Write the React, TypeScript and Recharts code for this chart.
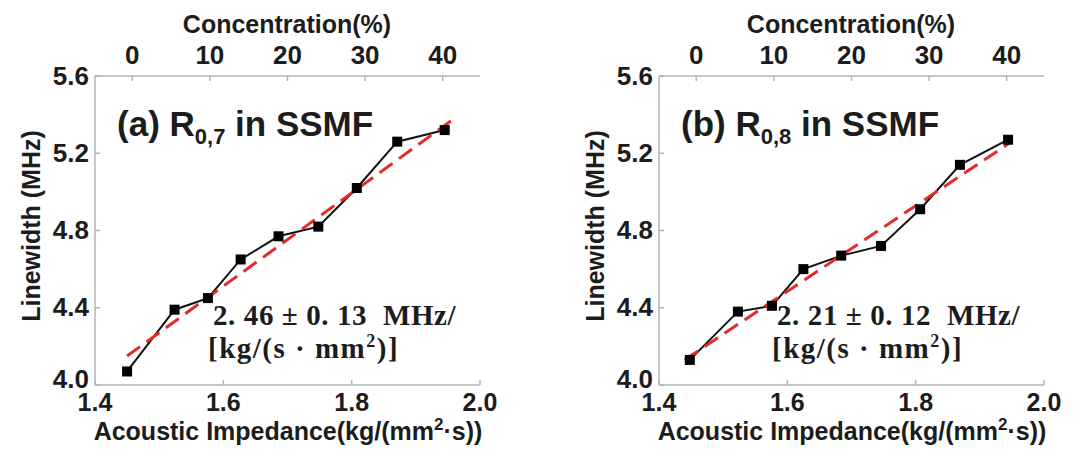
import { ScatterChart, Scatter, XAxis, YAxis } from "recharts";

// concentration (%) of each sample, shown on the top axis
const concentration = [0, 5, 10, 15, 20, 25, 30, 35, 40];

// (a) R0,7 in SSMF
const impedanceA = [1.45, 1.524, 1.576, 1.627, 1.686, 1.748, 1.808, 1.871, 1.945];
const linewidthA = [4.07, 4.39, 4.45, 4.65, 4.77, 4.82, 5.02, 5.26, 5.32];
const fitImpedanceA = [1.45, 1.96];
const fitLinewidthA = [4.15, 5.38];

// (b) R0,8 in SSMF
const impedanceB = [1.448, 1.523, 1.576, 1.625, 1.684, 1.746, 1.807, 1.869, 1.944];
const linewidthB = [4.13, 4.38, 4.41, 4.6, 4.67, 4.72, 4.91, 5.14, 5.27];
const fitImpedanceB = [1.44, 1.945];
const fitLinewidthB = [4.13, 5.25];

const impedanceTicks = [1.4, 1.6, 1.8, 2.0];
const linewidthTicks = [4.0, 4.4, 4.8, 5.2, 5.6];
const concentrationTicks = [0, 10, 20, 30, 40];

const BOX = "#b4b4b4";
const INK = "#1c1c1c";
const SANS = "'Liberation Sans', Arial, sans-serif";
const SERIF = "'Liberation Serif', 'Times New Roman', serif";

const BottomTick = ({ x, y, payload }: any) => (
  <g>
    <line x1={x} x2={x} y1={y} y2={y - 5} stroke={BOX} strokeWidth={1.5} />
    <text x={x} y={y + 26} textAnchor="middle" fontFamily={SANS} fontWeight="bold" fontSize={25} fill={INK}>
      {Number(payload.value).toFixed(1)}
    </text>
  </g>
);

const TopTick = ({ x, y, payload }: any) => (
  <g>
    <line x1={x} x2={x} y1={y} y2={y + 5} stroke={BOX} strokeWidth={1.5} />
    <text x={x} y={y - 12} textAnchor="middle" fontFamily={SANS} fontWeight="bold" fontSize={26} fill={INK}>
      {payload.value}
    </text>
  </g>
);

// the lowest label sits a little higher, clear of the bottom axis labels
const LeftTick = ({ x, y, payload }: any) => (
  <g>
    <line x1={x} x2={x + 5} y1={y} y2={y} stroke={BOX} strokeWidth={1.5} />
    <text
      x={x - 6}
      y={y + (payload.value === linewidthTicks[0] ? 3 : 8.5)}
      textAnchor="end"
      fontFamily={SANS}
      fontWeight="bold"
      fontSize={26}
      fill={INK}
    >
      {Number(payload.value).toFixed(1)}
    </text>
  </g>
);

const squareMarker = (p: any) => <rect x={p.cx - 5} y={p.cy - 5} width={10} height={10} fill="#000" />;
const noMarker = () => <g />;

type PanelProps = {
  left: number;
  letter: string;
  mode: string;
  slope: string;
  error: string;
  impedance: number[];
  linewidth: number[];
  fitImpedance: number[];
  fitLinewidth: number[];
};

function Panel({ left, letter, mode, slope, error, impedance, linewidth, fitImpedance, fitLinewidth }: PanelProps) {
  const points = impedance.map((imp, i) => ({ imp, lw: linewidth[i] }));
  const fit = fitImpedance.map((imp, i) => ({ imp, lw: fitLinewidth[i] }));
  const conc = concentration.map((c, i) => ({ c, lw: linewidth[i] }));
  const axisLine = { stroke: BOX, strokeWidth: 1.5 };

  return (
    <div style={{ position: "absolute", left, top: 0 }}>
      <ScatterChart width={516} height={467} margin={{ top: 46, right: 36, bottom: 52, left: 35 }}>
        <XAxis
          xAxisId="bottom"
          dataKey="imp"
          type="number"
          domain={[1.4, 2.0]}
          ticks={impedanceTicks}
          interval={0}
          height={30}
          tickSize={0}
          tickMargin={0}
          tickLine={false}
          axisLine={axisLine}
          tick={<BottomTick />}
        />
        <XAxis
          xAxisId="top"
          orientation="top"
          dataKey="c"
          type="number"
          domain={[-4.8, 44.8]}
          ticks={concentrationTicks}
          interval={0}
          height={30}
          tickSize={0}
          tickMargin={0}
          tickLine={false}
          axisLine={axisLine}
          tick={<TopTick />}
        />
        <YAxis
          dataKey="lw"
          type="number"
          domain={[4.0, 5.6]}
          ticks={linewidthTicks}
          interval={0}
          width={60}
          tickSize={0}
          tickMargin={0}
          tickLine={false}
          axisLine={axisLine}
          tick={<LeftTick />}
        />
        <YAxis
          yAxisId="right"
          orientation="right"
          dataKey="lw"
          type="number"
          domain={[4.0, 5.6]}
          width={0}
          tick={false}
          tickLine={false}
          axisLine={axisLine}
        />
        <Scatter xAxisId="top" data={conc} shape={noMarker} isAnimationActive={false} />
        <Scatter
          xAxisId="bottom"
          yAxisId="right"
          data={points}
          fill="#111"
          line={{ stroke: "#111", strokeWidth: 2 }}
          lineType="joint"
          shape={noMarker}
          isAnimationActive={false}
        />
        <Scatter
          xAxisId="bottom"
          data={fit}
          fill="#e42a2a"
          line={{ stroke: "#e42a2a", strokeWidth: 3, strokeDasharray: "16 8" }}
          lineType="joint"
          shape={noMarker}
          isAnimationActive={false}
        />
        <Scatter xAxisId="bottom" data={points} fill="#000" shape={squareMarker} isAnimationActive={false} />

        <text x={287} y={33} textAnchor="middle" fontFamily={SANS} fontWeight="bold" fontSize={25} fill={INK}>
          Concentration(%)
        </text>
        <text
          x={31}
          y={226}
          transform="rotate(-90 31 226)"
          textAnchor="middle"
          dominantBaseline="central"
          fontFamily={SANS}
          fontWeight="bold"
          fontSize={25}
          fill={INK}
        >
          Linewidth (MHz)
        </text>
        <text x={288} y={440} textAnchor="middle" fontFamily={SANS} fontWeight="bold" fontSize={25} fill={INK}>
          Acoustic Impedance(kg/(mm
          <tspan dy={-10} fontSize={17}>2</tspan>
          <tspan dy={10}>·s))</tspan>
        </text>
        <text x={117} y={136} fontFamily={SANS} fontWeight="bold" fontSize={35} fill={INK}>
          ({letter}) R
          <tspan dy={8} fontSize={22}>{mode}</tspan>
          <tspan dy={-8}> in SSMF</tspan>
        </text>
        <text x={213} y={325} fontFamily={SERIF} fontWeight="bold" fontSize={29} letterSpacing={0.6} fill={INK}>
          {`${slope} ± ${error}\u00a0\u00a0MHz/`}
        </text>
        <text x={208} y={358} fontFamily={SERIF} fontWeight="bold" fontSize={29} letterSpacing={1.5} fill={INK}>
          [kg/(s · mm
          <tspan dy={-11} fontSize={18}>2</tspan>
          <tspan dy={11}>)]</tspan>
        </text>
      </ScatterChart>
    </div>
  );
}

export default function App() {
  return (
    <div style={{ position: "absolute", left: 0, top: 0, width: 1080, height: 467, background: "#fff" }}>
      <Panel
        left={0}
        letter="a"
        mode="0,7"
        slope="2. 46"
        error="0. 13"
        impedance={impedanceA}
        linewidth={linewidthA}
        fitImpedance={fitImpedanceA}
        fitLinewidth={fitLinewidthA}
      />
      <Panel
        left={564}
        letter="b"
        mode="0,8"
        slope="2. 21"
        error="0. 12"
        impedance={impedanceB}
        linewidth={linewidthB}
        fitImpedance={fitImpedanceB}
        fitLinewidth={fitLinewidthB}
      />
    </div>
  );
}
